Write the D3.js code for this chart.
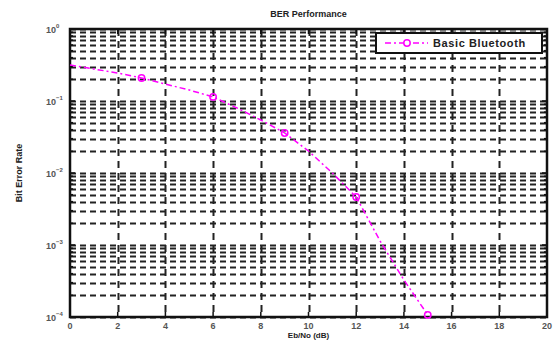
<!DOCTYPE html>
<html>
<head>
<meta charset="utf-8">
<script src="https://cdn.jsdelivr.net/npm/d3@7"></script>
<style>
  body { margin: 0; background: #fff; }
  text { font-family: "Liberation Sans", Arial, sans-serif; fill: #222; }
</style>
</head>
<body>
<div id="chart"></div>
<script>
// data
const ebno = [0, 1, 2, 3, 4, 5, 6, 7, 8, 9, 10, 11, 12, 13, 14, 15];
const ber = [0.316, 0.278, 0.245, 0.209, 0.172, 0.142, 0.114, 0.080, 0.0545, 0.036,
             0.0202, 0.0100, 0.00464, 0.00114, 0.000327, 0.000107];
const markerX = [3, 6, 9, 12, 15];
const xTicks = [0, 2, 4, 6, 8, 10, 12, 14, 16, 18, 20];
const yDecades = [0, -1, -2, -3, -4];
const seriesName = 'Basic Bluetooth';

const width = 558, height = 340;
const margin = {t: 29, r: 11, b: 23, l: 70};
const w = width - margin.l - margin.r;
const h = height - margin.t - margin.b;

const svg = d3.select('#chart').append('svg')
    .attr('width', width)
    .attr('height', height);

const x = d3.scaleLinear().domain([0, 20]).range([0, w]);
const y = d3.scaleLog().domain([1e-4, 1]).range([h, 0]);

const plot = svg.append('g')
    .attr('transform', `translate(${margin.l},${margin.t})`);

// minor + major values for log grid
const yGrid = [];
for (let k = -4; k < 0; k++) {
    for (let m = 1; m < 10; m++) yGrid.push(m * Math.pow(10, k));
}
yGrid.push(1);

// horizontal grid
plot.append('g').selectAll('line')
    .data(yGrid)
    .enter().append('line')
    .attr('x1', 0).attr('x2', w)
    .attr('y1', d => Math.round(y(d)) + 0.5)
    .attr('y2', d => Math.round(y(d)) + 0.5)
    .attr('stroke', '#222')
    .attr('stroke-width', 2)
    .attr('stroke-dasharray', '6,4');

// vertical grid
plot.append('g').selectAll('line')
    .data(xTicks.slice(1, -1))
    .enter().append('line')
    .attr('x1', d => Math.round(x(d)) + 0.5)
    .attr('x2', d => Math.round(x(d)) + 0.5)
    .attr('y1', 0).attr('y2', h)
    .attr('stroke', '#222')
    .attr('stroke-width', 2)
    .attr('stroke-dasharray', '7,5');

// ticks (inward, both sides)
const tickG = plot.append('g').attr('stroke', '#111').attr('stroke-width', 1.5);
xTicks.forEach(t => {
    tickG.append('line').attr('x1', x(t)).attr('x2', x(t)).attr('y1', h).attr('y2', h - 5);
    tickG.append('line').attr('x1', x(t)).attr('x2', x(t)).attr('y1', 0).attr('y2', 5);
});
yGrid.forEach(v => {
    const len = Number.isInteger(Math.log10(v)) ? 5 : 3;
    tickG.append('line').attr('x1', 0).attr('x2', len).attr('y1', y(v)).attr('y2', y(v));
    tickG.append('line').attr('x1', w).attr('x2', w - len).attr('y1', y(v)).attr('y2', y(v));
});

// axis box
plot.append('rect')
    .attr('x', 0).attr('y', 0)
    .attr('width', w).attr('height', h)
    .attr('fill', 'none')
    .attr('stroke', '#111')
    .attr('stroke-width', 2.5);

// x tick labels
plot.append('g').selectAll('text')
    .data(xTicks)
    .enter().append('text')
    .attr('x', d => x(d))
    .attr('y', h + 12)
    .attr('text-anchor', 'middle')
    .style('font-size', '9px')
    .style('font-weight', 'bold')
    .style('fill', '#555')
    .text(d => d);

// y tick labels 10^k
const yLab = plot.append('g').selectAll('text')
    .data(yDecades)
    .enter().append('text')
    .attr('x', -24)
    .attr('y', d => y(Math.pow(10, d)) + 4)
    .attr('text-anchor', 'start')
    .style('font-size', '9px')
    .style('font-weight', 'bold')
    .style('fill', '#555');
yLab.append('tspan').text('10');
yLab.append('tspan')
    .attr('dy', -5)
    .style('font-size', '6px')
    .text(d => d === 0 ? '0' : '\u2212' + (-d));

// series line
const line = d3.line()
    .x((d, i) => x(ebno[i]))
    .y(d => y(d));

plot.append('path')
    .datum(ber)
    .attr('d', line)
    .attr('fill', 'none')
    .attr('stroke', '#ff00ff')
    .attr('stroke-width', 1.5)
    .attr('stroke-dasharray', '6,3,2,3');

plot.append('g').selectAll('circle')
    .data(markerX)
    .enter().append('circle')
    .attr('cx', d => x(d))
    .attr('cy', d => y(ber[ebno.indexOf(d)]))
    .attr('r', 3.2)
    .attr('fill', 'none')
    .attr('stroke', '#ff00ff')
    .attr('stroke-width', 1.5);

// title and axis labels
svg.append('text')
    .attr('x', margin.l + w / 2)
    .attr('y', 17)
    .attr('text-anchor', 'middle')
    .style('font-size', '9px')
    .style('font-weight', 'bold')
    .text('BER Performance');

svg.append('text')
    .attr('x', margin.l + w / 2)
    .attr('y', 337.5)
    .attr('text-anchor', 'middle')
    .style('font-size', '8px')
    .style('font-weight', 'bold')
    .text('Eb/No (dB)');

svg.append('text')
    .attr('transform', `translate(22,${margin.t + h / 2}) rotate(-90)`)
    .attr('text-anchor', 'middle')
    .style('font-size', '9px')
    .style('font-weight', 'bold')
    .text('Bit Error Rate');

// legend
const lg = svg.append('g').attr('transform', 'translate(376,33)');
lg.append('rect')
    .attr('width', 166).attr('height', 20)
    .attr('fill', '#fff')
    .attr('stroke', '#111')
    .attr('stroke-width', 2);
lg.append('line')
    .attr('x1', 9).attr('x2', 52)
    .attr('y1', 10).attr('y2', 10)
    .attr('stroke', '#ff00ff')
    .attr('stroke-width', 1.5)
    .attr('stroke-dasharray', '6,3,2,3');
lg.append('circle')
    .attr('cx', 31).attr('cy', 10).attr('r', 3.2)
    .attr('fill', '#fff')
    .attr('stroke', '#ff00ff')
    .attr('stroke-width', 1.5);
lg.append('text')
    .attr('x', 57).attr('y', 14)
    .style('font-size', '11px')
    .style('font-weight', 'bold')
    .style('letter-spacing', '0.6px')
    .text(seriesName);
</script>
</body>
</html>
